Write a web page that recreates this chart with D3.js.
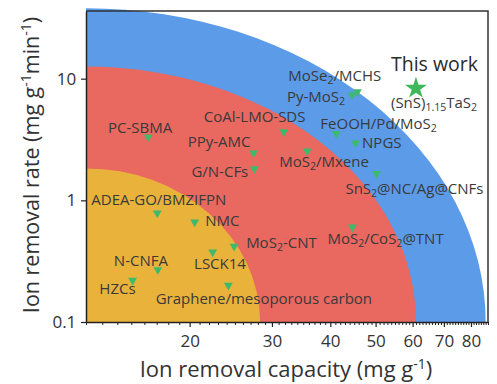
<!DOCTYPE html>
<html>
<head>
<meta charset="utf-8">
<script src="https://cdn.jsdelivr.net/npm/d3@7"></script>
<style>
  body { margin: 0; background: #fff; }
  text { font-family: "Open Sans", Lato, sans-serif; }
</style>
</head>
<body>
<svg id="chart" width="497" height="384"></svg>
<script>
// materials, capacity (mg/g) and rate (mg/g/min)
const materials = [
    "PC-SBMA", "CoAl-LMO-SDS", "PPy-AMC", "G/N-CFs", "MoS2/Mxene",
    "FeOOH/Pd/MoS2", "NPGS", "MoSe2/MCHS", "Py-MoS2", "SnS2@NC/Ag@CNFs",
    "MoS2/CoS2@TNT", "MoS2-CNT", "ADEA-GO/BMZIFPN", "NMC", "LSCK14",
    "N-CNFA", "HZCs", "Graphene/mesoporous carbon"
];
const capacity = [16.3, 31.8, 27.4, 27.5, 35.7, 41.2, 45.3, 45.7, 44.5, 50.2,
                  44.6, 24.9, 17.05, 20.5, 22.4, 17.1, 15.1, 24.2];
const rate = [3.32, 3.65, 2.45, 1.82, 2.54, 3.54, 2.96, 7.79, 7.32, 1.66,
              0.603, 0.418, 0.786, 0.663, 0.375, 0.269, 0.22, 0.2];

const thisWork = { capacity: 61, rate: 8.5 };

// background zones: reach on each axis
const zoneCapacity = [86, 61, 28.3];
const zoneRate = [38, 12.6, 1.83];
const zoneColors = ["#5b9be8", "#e9685f", "#e8b23b"];

const xTicks = [20, 30, 40, 50, 60, 70, 80];
const yTicks = [0.1, 1, 10];

// label layout: [dx, dy, anchor]
const labelPos = [
    [-8, -4, "middle"], [-80, -10, "start"], [-3, -6, "end"], [-6, 8, "end"],
    [-28, 16, "start"], [-16, -4.5, "start"], [6.5, 4.5, "start"], [-69, -11, "start"],
    [-65, 6.5, "start"], [-31, 20, "start"], [-25, 17, "start"], [12, 1.5, "start"],
    [-66, -8, "start"], [10.5, 4, "start"], [-18.6, 17, "start"], [-44, -4, "start"],
    [-33.3, 13.5, "start"], [-72.7, 18.5, "start"]
];

const svg = d3.select("#chart");
const m = { left: 86, top: 11, right: 488, bottom: 322 };

const x = d3.scaleLog().domain([12, 87]).range([m.left, m.right]);
const y = d3.scaleLog().domain([0.1, 36]).range([m.bottom, m.top]);

// zones as quarter ellipses from the bottom-left corner
const x0 = x(12), y0 = y(0.1);
zoneCapacity.forEach((c, i) => {
    const rx = x(c) - x0, ry = y0 - y(zoneRate[i]);
    svg.append("path")
        .attr("d", `M${x0},${y0} L${x0},${y0 - ry} A${rx},${ry} 0 0 1 ${x0 + rx},${y0} Z`)
        .attr("fill", zoneColors[i]);
});

// frame
svg.append("path")
    .attr("d", `M${m.left},${m.top} H${m.right} V${m.bottom}`)
    .attr("fill", "none").attr("stroke", "#333").attr("stroke-width", 1.5);

// x axis with minor ticks
const minor = d3.range(12, 88).filter(v => !xTicks.includes(v));
svg.append("g")
    .attr("transform", `translate(0,${m.bottom})`)
    .call(d3.axisBottom(x).tickValues(minor).tickSize(3).tickFormat(""))
    .call(g => g.select(".domain").remove())
    .selectAll("line").attr("stroke", "#222");

const xAxis = svg.append("g")
    .attr("transform", `translate(0,${m.bottom})`)
    .call(d3.axisBottom(x).tickValues(xTicks).tickSize(5).tickSizeOuter(0).tickFormat(d3.format("d")));
xAxis.select(".domain").attr("stroke", "#222").attr("stroke-width", 1.5);
xAxis.selectAll("line").attr("stroke", "#222").attr("stroke-width", 1.2);
xAxis.selectAll("text").attr("font-size", 17).attr("fill", "#333").attr("dy", "1.0em");

const yAxis = svg.append("g")
    .attr("transform", `translate(${m.left},0)`)
    .call(d3.axisLeft(y).tickValues(yTicks).tickSize(5).tickSizeOuter(0).tickFormat(d => d));
yAxis.select(".domain").attr("stroke", "#222").attr("stroke-width", 1.5);
yAxis.selectAll("line").attr("stroke", "#222").attr("stroke-width", 1.2);
yAxis.selectAll("text").attr("font-size", 17).attr("fill", "#333").attr("dx", "-0.1em");

// axis titles
const xt = svg.append("text")
    .attr("x", 286).attr("y", 377).attr("text-anchor", "middle")
    .attr("font-size", 22).attr("fill", "#333");
xt.append("tspan").text("Ion removal capacity (mg g");
xt.append("tspan").attr("dy", -8).attr("font-size", 14).text("-1");
xt.append("tspan").attr("dy", 8).text(")");

const yt = svg.append("text")
    .attr("transform", "translate(39,165) rotate(-90)")
    .attr("text-anchor", "middle")
    .attr("font-size", 21.5).attr("fill", "#333");
yt.append("tspan").text("Ion removal rate (mg g");
yt.append("tspan").attr("dy", -8).attr("font-size", 14).text("-1");
yt.append("tspan").attr("dy", 8).text("min");
yt.append("tspan").attr("dy", -8).attr("font-size", 14).text("-1");
yt.append("tspan").attr("dy", 8).text(")");

// write a label, digits after a letter become subscripts
function richText(sel, s) {
    const parts = s.split(/(?<=[A-Za-z])(2)(?=[^0-9]|$)/);
    let sub = false;
    parts.forEach(p => {
        if (p === "") return;
        if (p === "2") {
            sel.append("tspan").attr("dy", 3).attr("font-size", 10.5).text("2");
            sub = true;
        } else {
            sel.append("tspan").attr("dy", sub ? -3 : 0).text(p);
            sub = false;
        }
    });
}

const tri = d3.symbol().type(d3.symbolTriangle).size(34);
materials.forEach((name, i) => {
    const px = x(capacity[i]), py = y(rate[i]);
    svg.append("path")
        .attr("d", tri)
        .attr("transform", `translate(${px},${py}) rotate(180)`)
        .attr("fill", "#3dba6c");
    const [dx, dy, anchor] = labelPos[i];
    const t = svg.append("text")
        .attr("x", px + dx).attr("y", py + dy)
        .attr("text-anchor", anchor)
        .attr("font-size", 15).attr("fill", "#3a3a3a");
    richText(t, name);
});

// this work
const sx = x(thisWork.capacity), sy = y(thisWork.rate);
svg.append("path")
    .attr("d", d3.symbol().type(d3.symbolStar).size(150))
    .attr("transform", `translate(${sx},${sy + 1})`)
    .attr("fill", "#3db85a");
svg.append("text")
    .attr("x", sx - 25).attr("y", sy - 16)
    .attr("font-size", 19.5).attr("fill", "#2a2a2a")
    .text("This work");
const sw = svg.append("text")
    .attr("x", sx - 25).attr("y", sy + 21)
    .attr("font-size", 15).attr("fill", "#3a3a3a");
sw.append("tspan").text("(SnS)");
sw.append("tspan").attr("dy", 3).attr("font-size", 10.5).text("1.15");
sw.append("tspan").attr("dy", -3).text("TaS");
sw.append("tspan").attr("dy", 3).attr("font-size", 10.5).text("2");
</script>
</body>
</html>
